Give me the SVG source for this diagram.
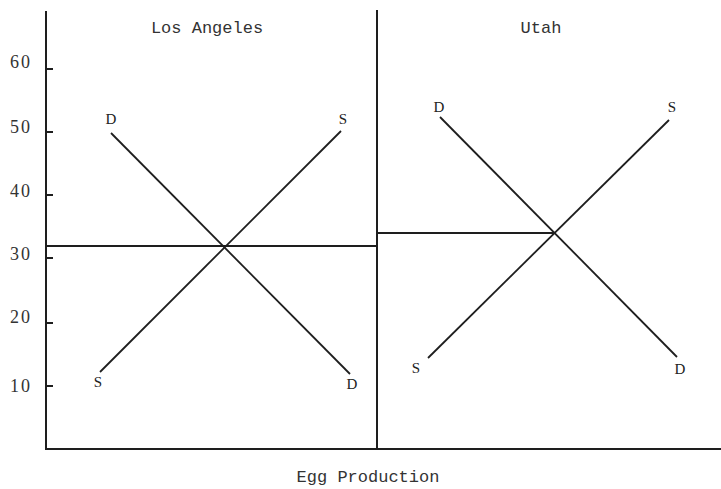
<svg xmlns="http://www.w3.org/2000/svg" width="721" height="489" viewBox="0 0 721 489">
<style>
.ax{stroke:#1e1e1e;stroke-width:2;fill:none}
.ln{stroke:#1e1e1e;stroke-width:1.8;fill:none}
.num{font-family:"Liberation Serif",serif;font-size:18px;fill:#333;letter-spacing:2px}
.lbl{font-family:"Liberation Serif",serif;font-size:15px;fill:#222;text-anchor:middle}
.ttl{font-family:"Liberation Mono",monospace;font-size:17px;fill:#333;text-anchor:middle}
</style>
<rect width="721" height="489" fill="#fff"/>
<g id="axes">
<path class="ax" d="M46,11 V449 H721"/>
<path class="ax" d="M377,10 V449"/>
<path class="ax" d="M46,69 h7 M46,132 h7 M46,195 h7 M46,258 h7 M46,323 h7 M46,386 h7"/>
<text class="num" x="10" y="68">60</text>
<text class="num" x="10" y="133">50</text>
<text class="num" x="10" y="197">40</text>
<text class="num" x="10" y="260">30</text>
<text class="num" x="10" y="323">20</text>
<text class="num" x="10" y="392">10</text>
<text class="ttl" x="368" y="482">Egg Production</text>
</g>
<g id="los-angeles">
<text class="ttl" x="207" y="33">Los Angeles</text>
<text class="lbl" x="111" y="124">D</text>
<text class="lbl" x="343" y="124">S</text>
<text class="lbl" x="98" y="387">S</text>
<text class="lbl" x="352" y="389">D</text>
</g>
<g id="utah">
<text class="ttl" x="541" y="33">Utah</text>
<text class="lbl" x="439" y="112">D</text>
<text class="lbl" x="672" y="112">S</text>
<text class="lbl" x="416" y="373">S</text>
<text class="lbl" x="680" y="374">D</text>
</g>
<g id="connectors">
<path class="ln" d="M46,246 H377"/>
<path class="ln" d="M111,133 L350,374"/>
<path class="ln" d="M341,131 L100,372"/>
<path class="ln" d="M377,233 H554"/>
<path class="ln" d="M440,117 L677,357"/>
<path class="ln" d="M669,120 L428,358"/>
</g>
</svg>
